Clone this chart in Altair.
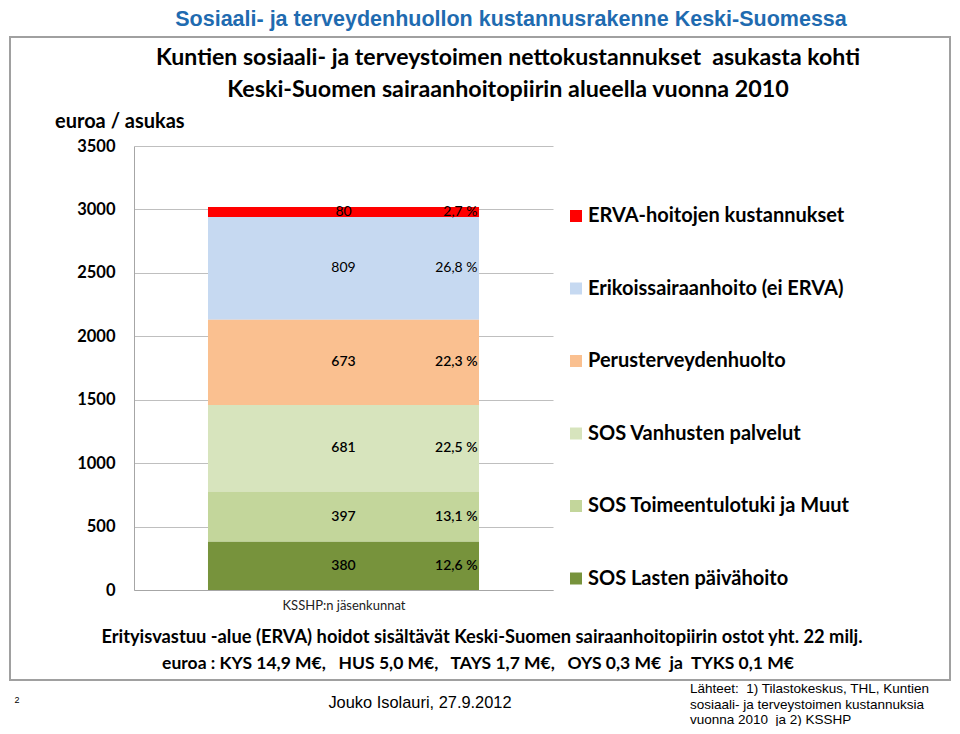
import altair as alt
import pandas as pd

# ---- data ----
categories = [
    "ERVA-hoitojen kustannukset",
    "Erikoissairaanhoito (ei ERVA)",
    "Perusterveydenhuolto",
    "SOS Vanhusten palvelut",
    "SOS Toimeentulotuki ja Muut",
    "SOS Lasten päivähoito",
]
values = [80, 809, 673, 681, 397, 380]
percents = ["2,7 %", "26,8 %", "22,3 %", "22,5 %", "13,1 %", "12,6 %"]
stack_rank = [6, 5, 4, 3, 2, 1]
colors = ["#FF0000", "#C6D9F1", "#FAC090", "#D7E4BD", "#C3D69B", "#77933C"]
group_label = "KSSHP:n jäsenkunnat"
y_ticks = [0, 500, 1000, 1500, 2000, 2500, 3000, 3500]

header = "Sosiaali- ja terveydenhuollon kustannusrakenne Keski-Suomessa"
title_1 = "Kuntien sosiaali- ja terveystoimen nettokustannukset\u00a0 asukasta kohti"
title_2 = "Keski-Suomen sairaanhoitopiirin alueella vuonna 2010"
y_unit = "euroa / asukas"
note_1 = "Erityisvastuu -alue (ERVA) hoidot sisältävät Keski-Suomen sairaanhoitopiirin ostot yht. 22 milj."
note_2 = ("euroa : KYS 14,9 M€,\u00a0\u00a0\u00a0HUS 5,0 M€,\u00a0\u00a0\u00a0TAYS 1,7 M€,"
          "\u00a0\u00a0\u00a0OYS 0,3 M€\u00a0\u00a0ja\u00a0\u00a0TYKS 0,1 M€")
page_no = "2"
author = "Jouko Isolauri, 27.9.2012"
sources = ["Lähteet:\u00a0 1) Tilastokeskus, THL, Kuntien",
           "sosiaali- ja terveystoimen kustannuksia",
           "vuonna 2010\u00a0 ja 2) KSSHP"]

df = pd.DataFrame({
    "group": [group_label] * len(categories),
    "category": categories,
    "value": values,
    "pct": percents,
    "rank": stack_rank,
    "bold": [False, False, True, True, True, True],
})

W, H = 419, 444
CAL = "Lato, Carlito, 'Open Sans', sans-serif"
ARIAL = "'Liberation Sans', Arial, sans-serif"

x_enc = alt.X("group:N", title=group_label,
              scale=alt.Scale(paddingInner=0, paddingOuter=0.273),
              axis=alt.Axis(labels=False, ticks=False, domainColor="#A6A6A6",
                            titleFont=CAL, titleFontSize=13, titleFontWeight="normal",
                            titleColor="#222222", titlePadding=9))
y_enc = alt.Y("value:Q", stack="zero", title=None,
              scale=alt.Scale(domain=[0, 3500], nice=False),
              axis=alt.Axis(values=y_ticks, format="d", ticks=False,
                            domainColor="#A6A6A6", gridColor="#BFBFBF",
                            labelFont=CAL, labelFontSize=16.5,
                            labelFontWeight="bold", labelColor="#000000",
                            labelPadding=19))

base = alt.Chart(df)

bars = base.mark_bar().encode(
    x=x_enc,
    y=y_enc,
    color=alt.Color("category:N",
                    scale=alt.Scale(domain=categories, range=colors),
                    legend=alt.Legend(title=None, orient="none", legendX=432, legendY=60,
                                      symbolType="square", symbolSize=144,
                                      symbolStrokeWidth=0, labelFont=CAL,
                                      labelFontSize=20, labelFontWeight="bold",
                                      labelColor="#000000", labelLimit=400,
                                      labelOffset=2, rowPadding=52.5, padding=0)),
    order=alt.Order("rank:Q", sort="ascending"),
)


def seg_text(field, bold, dx, align):
    return base.transform_window(
        cum="sum(value)", sort=[alt.SortField("rank")], frame=[None, 0]
    ).transform_calculate(
        mid="datum.cum - datum.value / 2"
    ).transform_filter(
        "datum.bold" if bold else "!datum.bold"
    ).mark_text(font=CAL, fontSize=14, fontWeight=600 if bold else "normal",
                color="#000000", align=align, baseline="middle", dx=dx).encode(
        x="group:N",
        y="mid:Q",
        text=f"{field}:N",
    )


labels = [
    seg_text("value", False, 0, "center"),
    seg_text("value", True, 0, "center"),
    seg_text("pct", False, 134, "right"),
    seg_text("pct", True, 134, "right"),
]


def note(text, x, y, font, size, weight="normal", color="#000000", align="center",
         baseline="middle"):
    return alt.Chart(pd.DataFrame({"t": [text]})).mark_text(
        font=font, fontSize=size, fontWeight=weight, color=color, align=align,
        baseline=baseline
    ).encode(text="t:N", x=alt.value(x), y=alt.value(y))


frame = alt.Chart(pd.DataFrame({"t": ["frame"]})).mark_rect(
    fill="transparent", stroke="#A0A0A0", strokeWidth=2
).encode(x=alt.value(-124), x2=alt.value(816), y=alt.value(-109), y2=alt.value(534))

texts = [
    note(header, 377, -126, ARIAL, 21.5, "bold", "#1F6BB0"),
    note(title_1, 374, -88, CAL, 23.1, "bold"),
    note(title_2, 374, -56, CAL, 23.3, "bold"),
    note(y_unit, -79, -24, CAL, 20, "bold", align="left"),
    note(note_1, 348, 492, CAL, 18.3, "bold"),
    note(note_2, 344, 518, CAL, 17.5, "bold"),
    note(page_no, -117, 554, ARIAL, 9),
    note(author, 286, 557, ARIAL, 16.4),
    note(sources[0], 556, 543, ARIAL, 13.5, align="left"),
    note(sources[1], 556, 559, ARIAL, 13.5, align="left"),
    note(sources[2], 556, 574, ARIAL, 13.5, align="left"),
]

chart = alt.layer(frame, bars, *labels, *texts).properties(
    width=W, height=H,
    autosize=alt.AutoSizeParams(type="none"),
    padding={"left": 126, "top": 138, "right": 399, "bottom": 136},
    background="white",
).configure_view(stroke=None)

chart.save("out.html", embed_options={"renderer": "svg", "actions": False})
